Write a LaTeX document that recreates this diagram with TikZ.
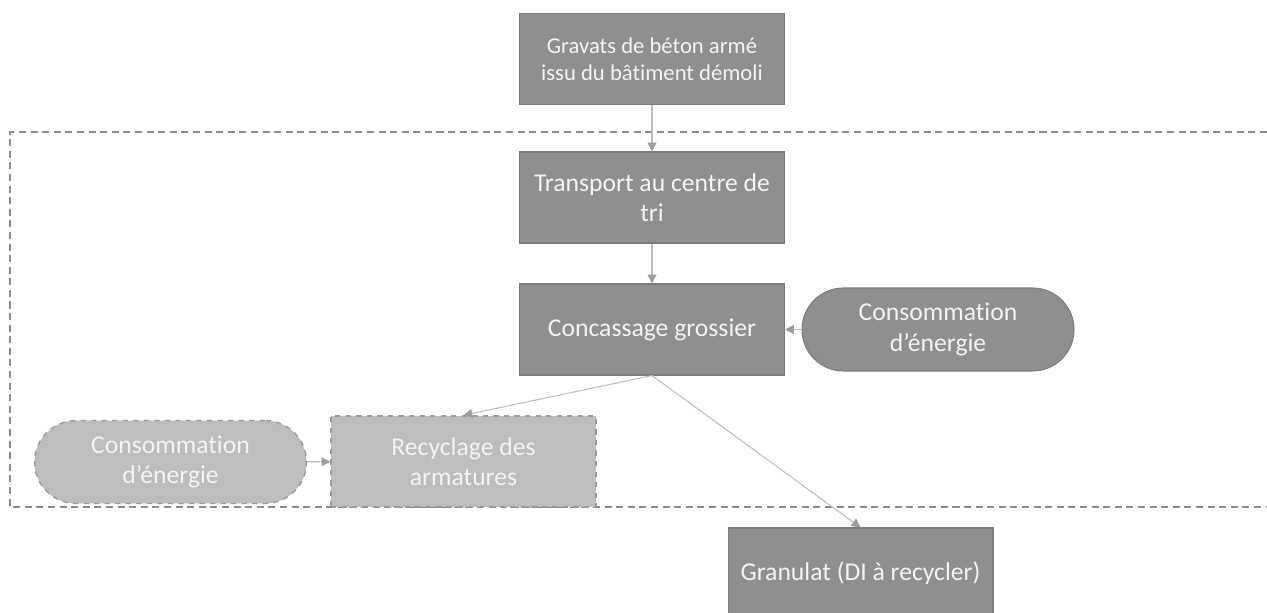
\documentclass[tikz,border=0pt]{standalone}
\usepackage{fontspec}
\setmainfont[RawFeature={-liga;-clig;-calt;-dlig}]{Carlito}
\usetikzlibrary{arrows.meta}
\definecolor{boxfill}{HTML}{8F8F8F}
\definecolor{boxline}{HTML}{7C7C7C}
\definecolor{lightfill}{HTML}{BDBDBD}
\definecolor{lightline}{HTML}{9A9A9A}
\definecolor{arrline}{HTML}{BDBDBD}
\definecolor{arrtip}{HTML}{9C9C9C}
\definecolor{framecol}{HTML}{8C8C8C}
\definecolor{txt}{HTML}{F4F4F4}
\begin{document}
\begin{tikzpicture}[x=0.02cm, y=-0.02cm,
  font=\fontsize{14.6}{17.4}\selectfont,
  etape/.style={draw=boxline, line width=0.6pt, fill=boxfill, text=txt,
                align=center, inner sep=0pt,
                minimum width=5.3cm, minimum height=1.82cm},
  conso/.style={draw=boxline, line width=0.6pt, fill=boxfill, text=txt,
                align=center, inner sep=0pt, rounded corners=0.83cm,
                minimum width=5.44cm, minimum height=1.66cm},
  evite/.style={fill=lightfill, draw=lightline, dashed, line width=0.8pt},
  fleche/.style={draw=arrline, line width=0.6pt,
                 -{Triangle[length=5pt, width=5pt, color=arrtip]}},
  cadre/.style={draw=framecol, line width=0.8pt, dash pattern=on 4pt off 2.6pt}
]
  \clip (0,0) rectangle (1267,612);
  \fill[white] (0,0) rectangle (1267,612);

  % perimetre du systeme
  \draw[cadre] (1290,132) -- (10,132) -- (10,507) -- (1290,507);

  \node[etape, font=\fontsize{12.9}{15.4}\selectfont] (gravats) at (652,59)
        {Gravats de béton armé\\issu du bâtiment démoli};
  \node[etape] (transport) at (652,197.5) {Transport au centre de\\tri};
  \node[etape] (concassage) at (652,329.5) {Concassage grossier};
  \node[conso] (conso1) at (938,329.5) {Consommation\\d’énergie};

  \node[etape, evite] (recyclage) at (463.5,461.5) {Recyclage des\\armatures};
  \node[conso, evite] (conso2) at (170.5,462) {Consommation\\d’énergie};

  \node[etape] (granulat) at (860.5,573.5) {Granulat (DI à recycler)};

  \draw[fleche] (gravats) -- (transport);
  \draw[fleche] (transport) -- (concassage);
  \draw[fleche] (conso1) -- (concassage);
  \draw[fleche] (concassage.south) -- (recyclage.north);
  \draw[fleche] (concassage.south) -- (granulat.north);
  \draw[fleche] (conso2) -- (recyclage);
\end{tikzpicture}
\end{document}
